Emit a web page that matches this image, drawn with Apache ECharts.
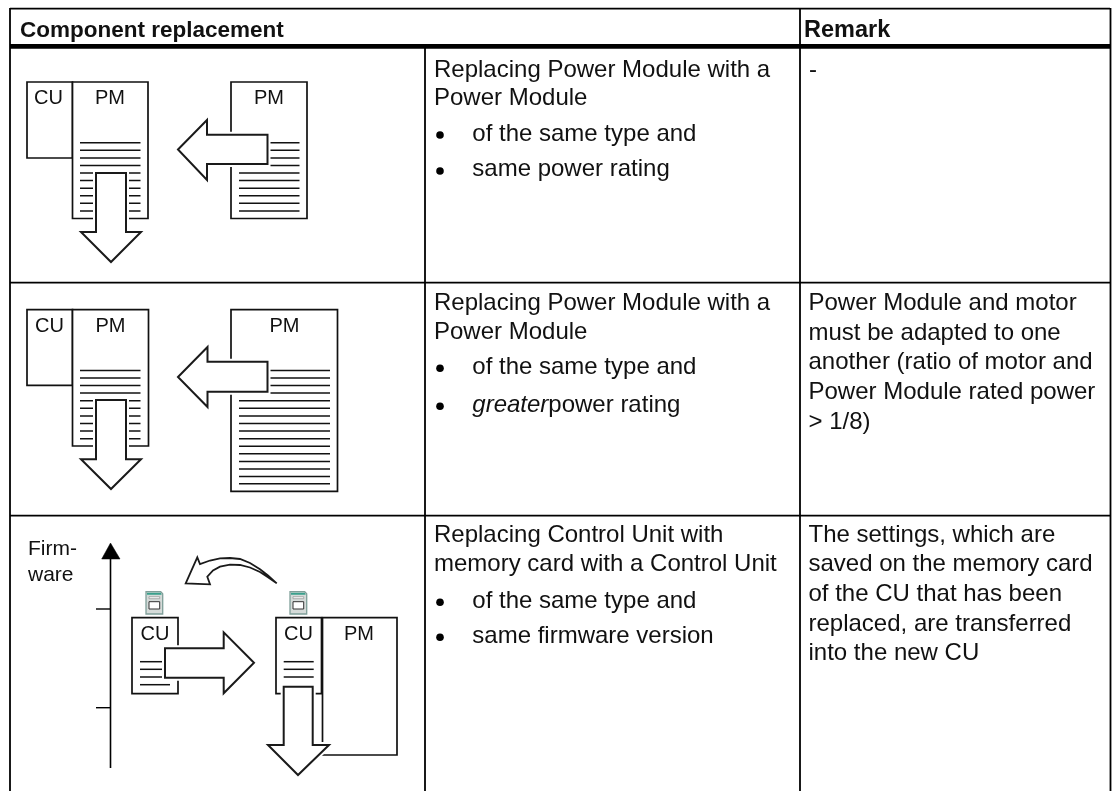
<!DOCTYPE html>
<html>
<head>
<meta charset="utf-8">
<title>Component replacement</title>
<style>
html,body{margin:0;padding:0;background:#fff;}
#main{width:1112px;height:791px;}
</style>
<script src="https://cdn.jsdelivr.net/npm/echarts@6/dist/echarts.min.js"></script>
</head>
<body>
<div id="main"></div>
<script>
// table rules: [x1, y1, x2, y2, width]
var tableRules = [
	[10, 8.7, 1110, 8.7, 1.8],
	[10, 46.4, 1110, 46.4, 4.6],
	[10, 282.7, 1110, 282.7, 1.8],
	[10, 515.7, 1110, 515.7, 1.8],
	[10, 8, 10, 791, 1.8],
	[425, 48, 425, 791, 1.8],
	[800, 8, 800, 791, 1.8],
	[1110.5, 8, 1110.5, 791, 1.8]
];

// [left, top, right, bottom]
var boxes = [
	[27, 82, 72.5, 158],
	[72.5, 82, 148, 218.5],
	[231, 82, 307, 218.5],
	[27, 309.7, 72.5, 385.3],
	[72.5, 309.7, 148.5, 446],
	[231, 309.7, 337.5, 491.3],
	[132, 617.7, 178, 693.7],
	[276, 617.7, 321.5, 693.7],
	[322.5, 617.7, 397, 755]
];

// [x1, x2, y values]
var hatchBlocks = [
	[80, 140.5, [142.7, 150.3, 157.9, 165.4, 173, 180.6, 188.2, 195.8, 203.3, 211]],
	[239, 299.5, [142.7, 150.3, 157.9, 165.4, 173, 180.6, 188.2, 195.8, 203.3, 211]],
	[80, 140.5, [370.4, 378, 385.6, 393.1, 400.7, 408.3, 415.9, 423.5, 431, 438.7]],
	[239, 330, [370.4, 378, 385.6, 393.1, 400.7, 408.3, 415.9, 423.5, 431, 438.7, 446.2, 453.8, 461.4, 469, 476.5, 483.7]],
	[140, 170, [661.7, 669.3, 677, 684.7]],
	[283.7, 313.7, [661.7, 669.3, 677]]
];

var arrowDown1 = [[96, 173], [126, 173], [126, 232], [141, 232], [111, 262], [81, 232], [96, 232]];
var arrowLeft1 = [[178, 149.5], [207, 120], [207, 134.7], [267.5, 134.7], [267.5, 164], [207, 164], [207, 180]];
var arrowDown2 = [[96, 400], [126, 400], [126, 459.3], [141, 459.3], [111, 489], [81, 459.3], [96, 459.3]];
var arrowLeft2 = [[178, 377], [207.5, 347], [207.5, 361.7], [267.5, 361.7], [267.5, 391.7], [207.5, 391.7], [207.5, 407]];
var arrowRight3 = [[165, 648.3], [223.7, 648.3], [223.7, 632.3], [254, 662.7], [223.7, 693.3], [223.7, 677.7], [165, 677.7]];
var arrowDown3 = [[283.7, 686.7], [312.7, 686.7], [312.7, 745], [329, 745], [298, 775], [268, 745], [283.7, 745]];
var arrows = [arrowDown1, arrowLeft1, arrowDown2, arrowLeft2, arrowRight3, arrowDown3];

var curvedArrow = [[185.7, 583.3], [197.3, 557.3], [200, 564], [210, 560.5], [220, 558.3], [230, 558], [240, 559], [250, 563], [260, 569.3], [268, 575.5], [276.7, 583.3], [268, 577.2], [260, 572], [250, 567.5], [240, 565], [230, 564.7], [220, 566.7], [213, 570.5], [207.3, 576.7], [210, 584.3]];

var fwAxis = [[110.5, 768], [110.5, 557]];
var fwHead = [[110.5, 543], [120, 559], [101.7, 559]];
var fwTicks = [[[96, 609], [110.5, 609]], [[96, 707.7], [110.5, 707.7]]];

var cardLeft = [146, 162.7];
var cardRight = [290, 306.7];

// diagram labels: [text, x, y]
var diagramLabels = [
	['CU', 48.5, 98], ['PM', 110, 98], ['PM', 269, 98],
	['CU', 49.5, 326], ['PM', 110.5, 326], ['PM', 284.5, 326],
	['CU', 155, 634], ['CU', 298.5, 634], ['PM', 359, 634]
];
var axisLabels = [['Firm-', 28, 549.5], ['ware', 28, 575]];
var headerLabels = [['Component replacement', 20, 30.5, 22.5], ['Remark', 804, 30.5, 23.5]];
// body text: [text, x, y]
var bodyLabels = [
	['Replacing Power Module with a', 434, 70], ['Power Module', 434, 98.4],
	['of the same type and', 472.3, 134.4], ['same power rating', 472.3, 169.4],
	['-', 809, 70],
	['Replacing Power Module with a', 434, 303], ['Power Module', 434, 332],
	['of the same type and', 472.3, 367.3], ['{i|greater}power rating', 472.3, 405.3],
	['Power Module and motor', 808.5, 303], ['must be adapted to one', 808.5, 333],
	['another (ratio of motor and', 808.5, 362.3], ['Power Module rated power', 808.5, 392], ['> 1/8)', 808.5, 422],
	['Replacing Control Unit with', 434, 535.7], ['memory card with a Control Unit', 434, 564.7],
	['of the same type and', 472.3, 601.3], ['same firmware version', 472.3, 636.3],
	['The settings, which are', 808.5, 535.7], ['saved on the memory card', 808.5, 564.7],
	['of the CU that has been', 808.5, 594.7], ['replaced, are transferred', 808.5, 624], ['into the new CU', 808.5, 653]
];
var bullets = [[440, 135], [440, 171], [440, 368.3], [440, 406.3], [440, 602.3], [440, 637.3]];

var FONT = '"Liberation Sans", Arial, sans-serif';
var myChart = echarts.init(document.getElementById('main'), null, {renderer: 'canvas'});

function line(api, p, q, w, c) {
	var a = api.coord(p), b = api.coord(q);
	return {type: 'line', shape: {x1: a[0], y1: a[1], x2: b[0], y2: b[1]}, style: {stroke: c || '#000', lineWidth: w, fill: null}};
}
function poly(api, pts, fill, stroke, w) {
	return {type: 'polygon', shape: {points: pts.map(function (p) { return api.coord(p); })}, style: {fill: fill, stroke: stroke, lineWidth: w, lineJoin: 'miter'}};
}
function label(api, t, font, align) {
	var c = api.coord([t[1], t[2]]);
	return {type: 'text', x: c[0], y: c[1], style: {
		text: t[0], font: font, fill: '#111', align: align, verticalAlign: 'middle',
		rich: {i: {font: 'italic 24px ' + FONT, fill: '#111'}}
	}};
}
function card(api, xs, top, bottom) {
	var x0 = xs[0], x1 = xs[1];
	return [
		poly(api, [[x0, top], [x1 - 2, top], [x1, top + 2], [x1, bottom], [x0, bottom]], '#d5dbd9', '#7f9f99', 1.3),
		poly(api, [[x0 + 1, top + 1], [x1 - 2, top + 1], [x1 - 1, top + 3], [x0 + 1, top + 3]], '#3aa08c', null, 0),
		poly(api, [[x0 + 3, top + 5], [x1 - 3, top + 5], [x1 - 3, top + 7], [x0 + 3, top + 7]], '#f4f6f6', '#888', 0.6),
		poly(api, [[x0 + 3, top + 10], [x1 - 3, top + 10], [x1 - 3, bottom - 5], [x0 + 3, bottom - 5]], '#fff', '#333', 1)
	];
}

var option = {
	animation: false,
	backgroundColor: '#fff',
	grid: {left: 0, right: 0, top: 0, bottom: 0},
	xAxis: {type: 'value', min: 0, max: 1112, show: false},
	yAxis: {type: 'value', min: 0, max: 791, inverse: true, show: false},
	series: [
		{
			// everything is one group so the paint order stays the same as the drawing
			type: 'custom',
			silent: true,
			clip: false,
			coordinateSystem: 'cartesian2d',
			data: [[0, 0]],
			renderItem: function (params, api) {
				var kids = [];
				tableRules.forEach(function (r) {
					kids.push(line(api, [r[0], r[1]], [r[2], r[3]], r[4]));
				});
				boxes.forEach(function (b) {
					kids.push(poly(api, [[b[0], b[1]], [b[2], b[1]], [b[2], b[3]], [b[0], b[3]]], '#fff', '#111', 1.7));
				});
				hatchBlocks.forEach(function (h) {
					h[2].forEach(function (y) {
						kids.push(line(api, [h[0], y], [h[1], y], 1.5, '#111'));
					});
				});
				arrows.forEach(function (a) {
					kids.push(poly(api, a, '#fff', '#fff', 6));
					kids.push(poly(api, a, '#fff', '#1a1a1a', 2));
				});
				kids.push(poly(api, curvedArrow, '#fff', '#1a1a1a', 1.8));
				kids.push(line(api, fwAxis[0], fwAxis[1], 1.6));
				kids.push(poly(api, fwHead, '#000', '#000', 0.5));
				fwTicks.forEach(function (t) {
					kids.push(line(api, t[0], t[1], 1.4));
				});
				kids = kids.concat(card(api, cardLeft, 591.7, 614), card(api, cardRight, 591.7, 614));
				bullets.forEach(function (b) {
					var c = api.coord(b);
					kids.push({type: 'circle', shape: {cx: c[0], cy: c[1], r: 3.8}, style: {fill: '#000'}});
				});
				diagramLabels.forEach(function (t) {
					kids.push(label(api, t, '20px ' + FONT, 'center'));
				});
				axisLabels.forEach(function (t) {
					kids.push(label(api, t, '21px ' + FONT, 'left'));
				});
				headerLabels.forEach(function (t) {
					kids.push(label(api, t, 'bold ' + t[3] + 'px ' + FONT, 'left'));
				});
				bodyLabels.forEach(function (t) {
					kids.push(label(api, t, '24px ' + FONT, 'left'));
				});
				return {type: 'group', children: kids};
			}
		}
	]
};
myChart.setOption(option);
</script>
</body>
</html>
